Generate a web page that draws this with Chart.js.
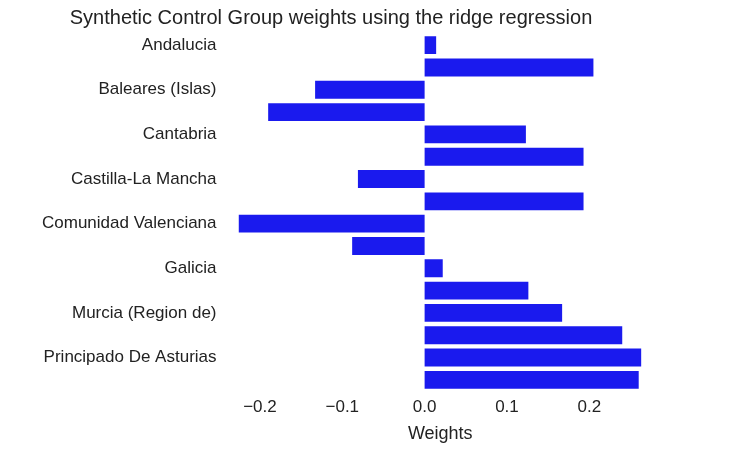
<!DOCTYPE html>
<html><head><meta charset="utf-8">
<script src="https://cdn.jsdelivr.net/npm/chart.js@4"></script>
<style>html,body{margin:0;background:#fff}#wrap{width:730px;height:451px}</style>
</head><body><div id="wrap"><canvas id="chart"></canvas></div>
<script>
// regions and their synthetic control weights
const regions = ["Andalucia","Aragon","Baleares (Islas)","Canarias","Cantabria","Castilla Y Leon",
  "Castilla-La Mancha","Cataluna","Comunidad Valenciana","Extremadura","Galicia",
  "Madrid (Comunidad De)","Murcia (Region de)","Navarra (Comunidad Foral De)",
  "Principado De Asturias","Rioja (La)"];
const weights = [0.014,0.205,-0.133,-0.19,0.123,0.193,-0.081,0.193,-0.226,-0.088,0.022,
  0.126,0.167,0.24,0.263,0.26];
const xTicks = [-0.2,-0.1,0.0,0.1,0.2];

const font = { family: "Arial, 'Liberation Sans', sans-serif", size: 17 };

new Chart(document.getElementById("chart"), {
  type: "bar",
  data: { labels: regions, datasets: [{ data: weights, backgroundColor: "#1a1aee", barPercentage: 0.8, categoryPercentage: 1 }] },
  options: {
    indexAxis: "y",
    responsive: true,
    maintainAspectRatio: false,
    animation: false,
    layout: { padding: { left: 20, right: 88, top: 2, bottom: 6 } },
    plugins: {
      legend: { display: false },
      tooltip: { enabled: false },
      title: { display: true, text: "Synthetic Control Group weights using the ridge regression",
        color: "#222", font: { ...font, size: 20, weight: "normal" }, padding: { top: 4, bottom: 4 } }
    },
    scales: {
      x: {
        min: -0.226, max: 0.264,
        grid: { display: false, drawTicks: false },
        border: { display: false },
        afterBuildTicks: ax => { ax.ticks = xTicks.map(v => ({ value: v })); },
        ticks: { color: "#222", font, padding: 6,
          callback: v => (v < 0 ? "\u2212" : "") + Math.abs(v).toFixed(1) },
        title: { display: true, text: "Weights", color: "#222", font: { ...font, size: 18 }, padding: 0 }
      },
      y: {
        grid: { display: false, drawTicks: false },
        border: { display: false },
        ticks: { color: "#222", font, padding: 22 }
      }
    }
  }
});
</script></body></html>
